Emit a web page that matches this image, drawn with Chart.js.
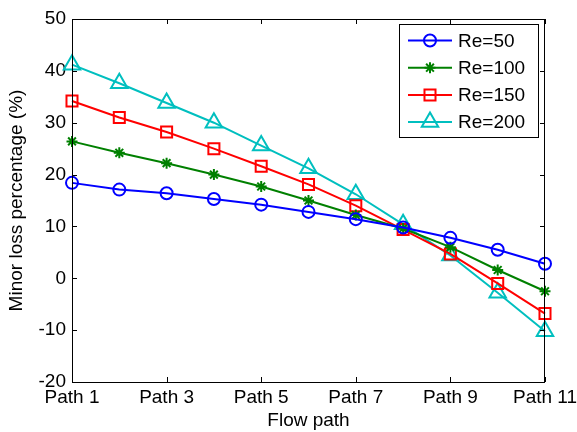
<!DOCTYPE html>
<html>
<head>
<meta charset="utf-8">
<script src="https://cdn.jsdelivr.net/npm/chart.js@4.4.1/dist/chart.umd.min.js"></script>
<style>
  html, body { margin: 0; padding: 0; background: #fff; }
  #wrap { width: 577px; height: 432px; }
</style>
</head>
<body>
<div id="wrap"><canvas id="lossChart"></canvas></div>
<script>
const paths = ['Path 1', 'Path 2', 'Path 3', 'Path 4', 'Path 5', 'Path 6',
               'Path 7', 'Path 8', 'Path 9', 'Path 10', 'Path 11'];
const re50  = [18.4, 17.1, 16.4, 15.3, 14.2, 12.8, 11.4, 9.8, 7.8, 5.5, 2.8];
const re100 = [26.4, 24.2, 22.2, 20.0, 17.7, 15.0, 12.2, 9.6, 6.0, 1.6, -2.5];
const re150 = [34.2, 31.0, 28.2, 25.0, 21.6, 18.1, 14.0, 9.4, 4.7, -1.0, -6.8];
const re200 = [41.2, 37.6, 33.8, 30.0, 25.6, 21.2, 16.2, 10.4, 4.4, -2.8, -10.2];
const yTicks = [-20, -10, 0, 10, 20, 30, 40, 50];

const FONT = 'Helvetica, Arial, "Liberation Sans", sans-serif';
const FSIZE = 19;

function series(label, data, color, style, radius) {
    return {
        label: label,
        data: data,
        borderColor: color,
        backgroundColor: 'rgba(0,0,0,0)',
        borderWidth: 2,
        pointStyle: style,
        pointRadius: radius,
        pointHoverRadius: radius,
        pointBorderWidth: 2,
        pointBorderColor: color,
        pointBackgroundColor: 'rgba(0,0,0,0)',
        tension: 0,
        clip: false
    };
}

// MATLAB style box with inward ticks + legend
const matlabAxes = {
    id: 'matlabAxes',
    afterDraw(chart) {
        const ctx = chart.ctx;
        const a = chart.chartArea;
        const xs = chart.scales.x, ys = chart.scales.y;
        const tl = 5;
        ctx.save();
        ctx.strokeStyle = '#000';
        ctx.lineWidth = 1;
        ctx.strokeRect(a.left + 0.5, a.top + 0.5, a.right - a.left - 1, a.bottom - a.top);
        ctx.beginPath();
        for (let i = 0; i < paths.length; i += 2) {
            const px = Math.round(xs.getPixelForValue(i)) + 0.5;
            ctx.moveTo(px, a.bottom); ctx.lineTo(px, a.bottom - tl);
            ctx.moveTo(px, a.top); ctx.lineTo(px, a.top + tl);
        }
        yTicks.forEach(v => {
            const py = Math.round(ys.getPixelForValue(v)) + 0.5;
            ctx.moveTo(a.left, py); ctx.lineTo(a.left + tl, py);
            ctx.moveTo(a.right, py); ctx.lineTo(a.right - tl, py);
        });
        ctx.stroke();

        // legend
        const bx = 399.5, by = 24.5, bw = 139, bh = 113;
        ctx.fillStyle = '#fff';
        ctx.fillRect(bx, by, bw, bh);
        ctx.strokeRect(bx, by, bw, bh);
        ctx.font = FSIZE + 'px ' + FONT;
        ctx.textBaseline = 'middle';
        ctx.textAlign = 'left';
        chart.data.datasets.forEach((ds, i) => {
            const ry = 40.5 + i * 27.2;
            ctx.strokeStyle = ds.borderColor;
            ctx.lineWidth = 2;
            ctx.beginPath();
            ctx.moveTo(408, ry); ctx.lineTo(452, ry);
            ctx.stroke();
            ctx.fillStyle = 'rgba(0,0,0,0)';
            if (Chart.helpers && Chart.helpers.drawPoint) {
                Chart.helpers.drawPoint(ctx, {
                    pointStyle: ds.pointStyle, radius: ds.pointRadius,
                    borderWidth: 2, rotation: 0
                }, 430, ry);
            }
            ctx.fillStyle = '#000';
            ctx.fillText(ds.label, 458, ry + 1);
        });
        ctx.restore();
    }
};

const ctx = document.getElementById('lossChart').getContext('2d');

new Chart(ctx, {
    type: 'line',
    data: {
        labels: paths,
        datasets: [
            series('Re=50', re50, '#0000ff', 'circle', 6),
            series('Re=100', re100, '#008000', 'star', 5.5),
            series('Re=150', re150, '#ff0000', 'rect', 7.8),
            series('Re=200', re200, '#00bfbf', 'triangle', 9.5)
        ]
    },
    plugins: [matlabAxes],
    options: {
        responsive: true,
        maintainAspectRatio: false,
        animation: false,
        layout: { padding: { left: 0, top: 19, right: 32, bottom: 0 } },
        scales: {
            x: {
                type: 'category',
                offset: false,
                grid: { display: false, drawTicks: false },
                border: { display: false },
                ticks: {
                    autoSkip: false,
                    maxRotation: 0,
                    padding: 4,
                    color: '#000',
                    font: { family: FONT, size: FSIZE },
                    callback: function (val, idx) { return idx % 2 === 0 ? paths[idx] : ''; }
                },
                title: {
                    display: true, text: 'Flow path', color: '#000',
                    font: { family: FONT, size: FSIZE },
                    padding: { top: 0, bottom: 0 }
                },
                afterFit: s => {
                    s.height = 50;
                    // let the last label run past the plot edge like the original
                    s.paddingRight = 0;
                    s.paddingLeft = 0;
                }
            },
            y: {
                min: -20, max: 50,
                grid: { display: false, drawTicks: false },
                border: { display: false },
                ticks: {
                    stepSize: 10,
                    padding: 6,
                    color: '#000',
                    font: { family: FONT, size: FSIZE }
                },
                title: {
                    display: true, text: 'Minor loss percentage (%)', color: '#000',
                    font: { family: FONT, size: FSIZE },
                    padding: { top: 5, bottom: 0 }
                },
                afterFit: s => { s.width = 72; }
            }
        },
        plugins: {
            legend: { display: false },
            tooltip: { enabled: false }
        }
    }
});
</script>
</body>
</html>
